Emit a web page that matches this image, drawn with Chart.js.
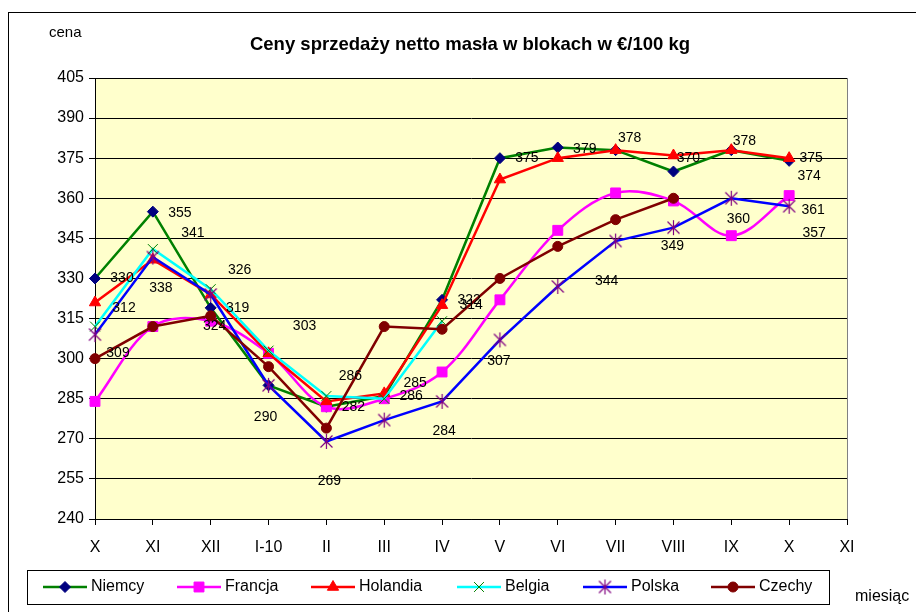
<!DOCTYPE html>
<html>
<head>
<meta charset="utf-8">
<script src="https://cdn.jsdelivr.net/npm/chart.js@4.4.1/dist/chart.umd.min.js"></script>
<style>
  html, body { margin: 0; padding: 0; background: #fff; }
</style>
</head>
<body>
<canvas id="lineChart" width="916" height="612"></canvas>
<script>
// months on the x axis (last XI has no data)
var months = ['X', 'XI', 'XII', 'I-10', 'II', 'III', 'IV', 'V', 'VI', 'VII', 'VIII', 'IX', 'X', 'XI'];

// prices in EUR / 100 kg
var niemcy   = [330, 355, 319, 290, 282, 286, 322, 375, 379, 378, 370, 378, 374];
var francja  = [284, 312, 314, 302, 282, 285, 295, 322, 348, 362, 359, 346, 361];
var holandia = [321, 337, 324, 302, 284, 287, 320, 367, 375, 378, 376, 378, 375];
var belgia   = [312, 341, 326, 303, 286, 285, 314];
var polska   = [309, 338, 324, 290, 269, 277, 284, 307, 327, 344, 349, 360, 357];
var czechy   = [300, 312, 316, 297, 274, 312, 311, 330, 342, 352, 360];

// which points get a value label, and where it sits: [index, dx, dy]
var niemcyLabels   = [[0, 27, 0], [1, 27, 2], [2, 27, 0], [4, 27, 0], [5, 27, 0], [6, 27, 0], [7, 27, 0], [8, 27, 2], [9, 14, -12], [10, 15, -13], [11, 13, -9], [12, 20, 15]];
var francjaLabels  = [[12, 24, 15]];
var holandiaLabels = [[12, 22, 0]];
var belgiaLabels   = [[0, 29, -18], [1, 40, -16], [2, 29, -19], [3, 36, -24], [4, 24, -20], [5, 31, -16], [6, 29, -16]];
var polskaLabels   = [[0, 23, 19], [1, 8, 31], [2, 4, 32], [3, -3, 32], [4, 3, 40], [6, 2, 30], [7, -1, 21], [9, -9, 40], [10, -1, 18], [11, 7, 21], [12, 25, 27]];
var czechyLabels   = [];

var FONT = 'Liberation Sans, Arial, sans-serif';

// Excel-like asterisk marker: X with a vertical bar
function asterisk(color, size) {
    var c = document.createElement('canvas');
    c.width = size; c.height = size;
    var g = c.getContext('2d');
    var m = size / 2, r = size / 2 - 1;
    g.strokeStyle = color;
    g.lineWidth = 1.2;
    g.beginPath();
    g.moveTo(m, m - r); g.lineTo(m, m + r);
    g.moveTo(m - r * 0.8, m - r * 0.8); g.lineTo(m + r * 0.8, m + r * 0.8);
    g.moveTo(m + r * 0.8, m - r * 0.8); g.lineTo(m - r * 0.8, m + r * 0.8);
    g.stroke();
    return c;
}

function series(label, data, lineColor, markerColor, style, radius, order, tension, labels) {
    return {
        label: label,
        data: data,
        borderColor: lineColor,
        borderWidth: 2.5,
        pointStyle: style,
        pointRadius: radius,
        pointBackgroundColor: markerColor,
        pointBorderColor: markerColor,
        pointBorderWidth: 1,
        tension: tension,
        order: order,
        clip: false,
        valueLabels: labels
    };
}

// background of plot area, outer frame and free texts
var framePlugin = {
    id: 'frame',
    beforeDraw: function(chart) {
        var ctx = chart.ctx, a = chart.chartArea;
        ctx.save();
        ctx.fillStyle = '#fff';
        ctx.fillRect(0, 0, chart.width, chart.height);
        ctx.strokeStyle = '#000';
        ctx.lineWidth = 1;
        ctx.strokeRect(8.5, 12.5, 1000, 1000);
        ctx.fillStyle = '#FFFFCC';
        ctx.fillRect(a.left, a.top, a.right - a.left, a.bottom - a.top);
        ctx.strokeStyle = '#808080';
        ctx.strokeRect(a.left + 0.5, a.top + 0.5, a.right - a.left, a.bottom - a.top);

        ctx.fillStyle = '#000';
        ctx.textBaseline = 'middle';
        ctx.textAlign = 'center';
        ctx.font = 'bold 18.5px ' + FONT;
        ctx.fillText('Ceny sprzedaży netto masła w blokach w €/100 kg', 470, 45);
        ctx.textAlign = 'left';
        ctx.font = '15px ' + FONT;
        ctx.fillText('cena', 49, 33);
        ctx.font = '16px ' + FONT;
        ctx.fillText('miesiąc', 855, 597);
        ctx.restore();
    },
    afterDraw: function(chart) {
        var ctx = chart.ctx;
        // legend box
        var legendX = [43, 177, 311, 457, 583, 711];
        var y = 587;
        ctx.save();
        ctx.fillStyle = '#fff';
        ctx.fillRect(27, 570, 802, 34);
        ctx.strokeStyle = '#000';
        ctx.lineWidth = 1;
        ctx.strokeRect(27.5, 570.5, 802, 34);
        chart.data.datasets.forEach(function(d, i) {
            var x = legendX[i];
            ctx.strokeStyle = d.borderColor;
            ctx.lineWidth = 2.5;
            ctx.beginPath();
            ctx.moveTo(x, y);
            ctx.lineTo(x + 44, y);
            ctx.stroke();
            ctx.fillStyle = d.pointBackgroundColor;
            ctx.strokeStyle = d.pointBorderColor;
            ctx.lineWidth = 1;
            Chart.helpers.drawPoint(ctx, {
                pointStyle: d.pointStyle, radius: d.pointRadius, rotation: 0, borderWidth: 1
            }, x + 22, y);
            ctx.fillStyle = '#000';
            ctx.font = '16px ' + FONT;
            ctx.textAlign = 'left';
            ctx.textBaseline = 'middle';
            ctx.fillText(d.label, x + 48, y);
        });
        ctx.restore();
    },
    afterDatasetsDraw: function(chart) {
        var ctx = chart.ctx;
        ctx.save();
        ctx.fillStyle = '#000';
        ctx.font = '14px ' + FONT;
        ctx.textAlign = 'center';
        ctx.textBaseline = 'middle';
        chart.data.datasets.forEach(function(d, i) {
            var meta = chart.getDatasetMeta(i);
            (d.valueLabels || []).forEach(function(l) {
                var p = meta.data[l[0]];
                if (!p) return;
                ctx.fillText(String(d.data[l[0]]), p.x + l[1], p.y + l[2]);
            });
        });
        ctx.restore();
    }
};

function createChart() {
    var ctx = document.getElementById('lineChart').getContext('2d');
    new Chart(ctx, {
        type: 'line',
        data: {
            labels: months,
            datasets: [
                series('Niemcy', niemcy, '#008000', '#000080', 'rectRot', 5.5, 6, 0, niemcyLabels),
                series('Francja', francja, '#FF00FF', '#FF00FF', 'rect', 7, 5, 0.35, francjaLabels),
                series('Holandia', holandia, '#FF0000', '#FF0000', 'triangle', 6.5, 4, 0, holandiaLabels),
                series('Belgia', belgia, '#00FFFF', '#008000', 'crossRot', 7, 3, 0, belgiaLabels),
                series('Polska', polska, '#0000FF', '#800080', asterisk('#800080', 17), 8, 2, 0, polskaLabels),
                series('Czechy', czechy, '#800000', '#800000', 'circle', 5, 1, 0, czechyLabels)
            ]
        },
        options: {
            responsive: false,
            animation: false,
            layout: { padding: { left: 0, top: 78, right: 69, bottom: 0 } },
            plugins: {
                legend: { display: false },
                title: { display: false },
                tooltip: { enabled: false }
            },
            scales: {
                x: {
                    type: 'category',
                    offset: false,
                    grid: { drawOnChartArea: false, drawTicks: true, tickLength: 6, color: '#000' },
                    border: { color: '#000' },
                    ticks: { color: '#000', font: { size: 16, family: FONT }, padding: 13, autoSkip: false, maxRotation: 0 },
                    afterFit: function(s) { s.height = 93; }
                },
                y: {
                    min: 240,
                    max: 405,
                    grid: { color: '#000', tickLength: 6 },
                    border: { color: '#000' },
                    ticks: { stepSize: 15, color: '#000', font: { size: 16, family: FONT }, padding: 5 },
                    afterFit: function(s) { s.width = 95; }
                }
            }
        },
        plugins: [framePlugin]
    });
}

document.addEventListener('DOMContentLoaded', createChart);
</script>
</body>
</html>
